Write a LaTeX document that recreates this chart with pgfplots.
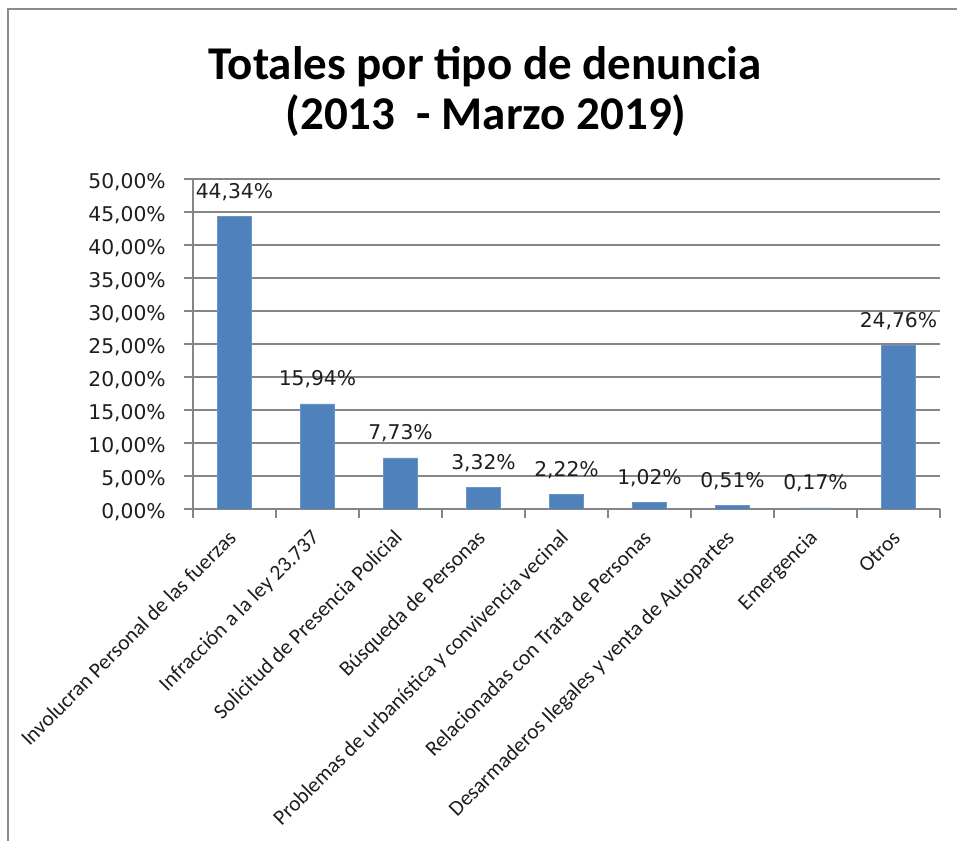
\documentclass[border=0pt]{standalone}
\usepackage{pgfplots}
\pgfplotsset{compat=1.18}
\usepackage{fontspec}
\setmainfont{Carlito}
\newfontfamily\dejavu{DejaVu Sans}
\definecolor{barblue}{HTML}{4F81BD}
\definecolor{axgray}{HTML}{868686}
\definecolor{framegray}{HTML}{8C8C8C}
\definecolor{txt}{HTML}{1E1E1E}
\begin{document}
\begin{tikzpicture}
\useasboundingbox (0,0) rectangle (957bp,841bp);
\draw[framegray, line width=2bp] (8bp,-2bp) -- (8bp,832bp) -- (959bp,832bp);
\node[anchor=base, font=\bfseries\fontsize{47bp}{56bp}\selectfont] at (485bp,761bp) {Totales por tipo de denuncia};
\node[anchor=base, font=\bfseries\fontsize{47bp}{56bp}\selectfont] at (486bp,711bp) {(2013 \ - Marzo 2019)};
\begin{axis}[
  at={(193bp,332bp)}, anchor=south west,
  scale only axis, width=747bp, height=330bp,
  xmin=-0.5, xmax=8.5, ymin=0, ymax=50,
  axis x line*=bottom, axis y line*=left,
  axis line style={draw=axgray, line width=1.3bp, -},
  ymajorgrids, grid style={draw=axgray, line width=1.3bp},
  tick align=outside, major tick length=9bp,
  tick style={draw=axgray, line width=1.3bp},
  ytick={0,5,...,50},
  yticklabels={{0,00\%},{5,00\%},{10,00\%},{15,00\%},{20,00\%},{25,00\%},{30,00\%},{35,00\%},{40,00\%},{45,00\%},{50,00\%}},
  yticklabel style={font=\dejavu\fontsize{20.3bp}{24bp}\selectfont, text=txt, anchor=east, inner sep=0pt, xshift=-18bp, yshift=-3bp},
  xtick={-0.5,0.5,...,8.5},
  xticklabels={},
  extra x ticks={0,1,2,3,4,5,6,7,8},
  extra x tick labels={Involucran Personal de las fuerzas, Infracción a la ley 23.737, Solicitud de Presencia Policial, Búsqueda de Personas, Problemas de urbanística y convivencia vecinal, Relacionadas con Trata de Personas, Desarmaderos Ilegales y venta de Autopartes, Emergencia, Otros},
  extra x tick style={major tick length=0pt, grid=none,
    xticklabel style={font=\fontsize{21.5bp}{25bp}\selectfont, text=txt, inner sep=0pt, xshift=3bp, yshift=-30bp, anchor=base east, rotate=45}},
  ybar, bar width=34bp,
  nodes near coords={\pgfmathprintnumber[fixed,fixed zerofill,precision=2,use comma,assume math mode=true]{\pgfplotspointmeta}\%},
  every node near coord/.append style={font=\dejavu\fontsize{20.3bp}{24bp}\selectfont, text=txt, anchor=base, inner sep=0pt, yshift=18bp},
]
\addplot[fill=barblue, draw=barblue!85!white] coordinates {(0,44.34) (1,15.94) (2,7.73) (3,3.32) (4,2.22) (5,1.02) (6,0.51) (7,0.17) (8,24.76)};
\end{axis}
\end{tikzpicture}
\end{document}
